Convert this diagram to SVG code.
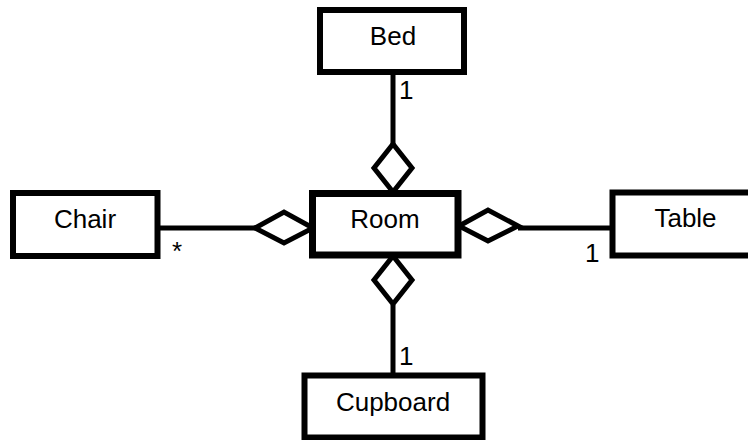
<svg xmlns="http://www.w3.org/2000/svg" width="748" height="440" viewBox="0 0 748 440">
<style>
.box{fill:#fff;stroke:#000;stroke-width:6}
.main{stroke-width:7}
.lbl{font-family:"Liberation Sans",Arial,sans-serif;font-size:26px;fill:#000}
.mid{text-anchor:middle}
.ln{fill:none;stroke:#000;stroke-width:5}
.dia{fill:#fff;stroke:#000;stroke-width:5;stroke-linejoin:miter}
</style>
<rect width="748" height="440" fill="#fff"/>
<g id="connectors">
<line class="ln" x1="393" y1="75" x2="393" y2="144"/>
<polygon class="dia" points="393,144 412,168 393,192 374,168"/>
<text class="lbl" x="399" y="99">1</text>
<line class="ln" x1="393" y1="305" x2="393" y2="373"/>
<polygon class="dia" points="393,256 412,280 393,304 374,280"/>
<text class="lbl" x="399" y="365">1</text>
<line class="ln" x1="160" y1="228" x2="255" y2="228"/>
<polygon class="dia" points="255,228 284,212 313,228 284,243"/>
<text class="lbl" x="172" y="260">*</text>
<line class="ln" x1="518" y1="228" x2="610" y2="228"/>
<polygon class="dia" points="459,226 488,210 518,226 488,241"/>
<text class="lbl" x="585" y="262">1</text>
</g>
<g id="bed">
<rect class="box" x="320" y="10" width="144" height="62"/>
<text class="lbl mid" x="393" y="45">Bed</text>
</g>
<g id="room">
<rect class="box main" x="312.5" y="193.5" width="145.5" height="61.5"/>
<text class="lbl mid" x="385" y="228">Room</text>
</g>
<g id="chair">
<rect class="box" x="13" y="193" width="144.5" height="63"/>
<text class="lbl mid" x="85" y="228">Chair</text>
</g>
<g id="table">
<rect class="box" x="612.5" y="192.5" width="200" height="63"/>
<text class="lbl mid" x="685.5" y="227">Table</text>
</g>
<g id="cupboard">
<rect class="box" x="304.5" y="375.5" width="178" height="62"/>
<text class="lbl mid" x="393" y="411">Cupboard</text>
</g>
</svg>
